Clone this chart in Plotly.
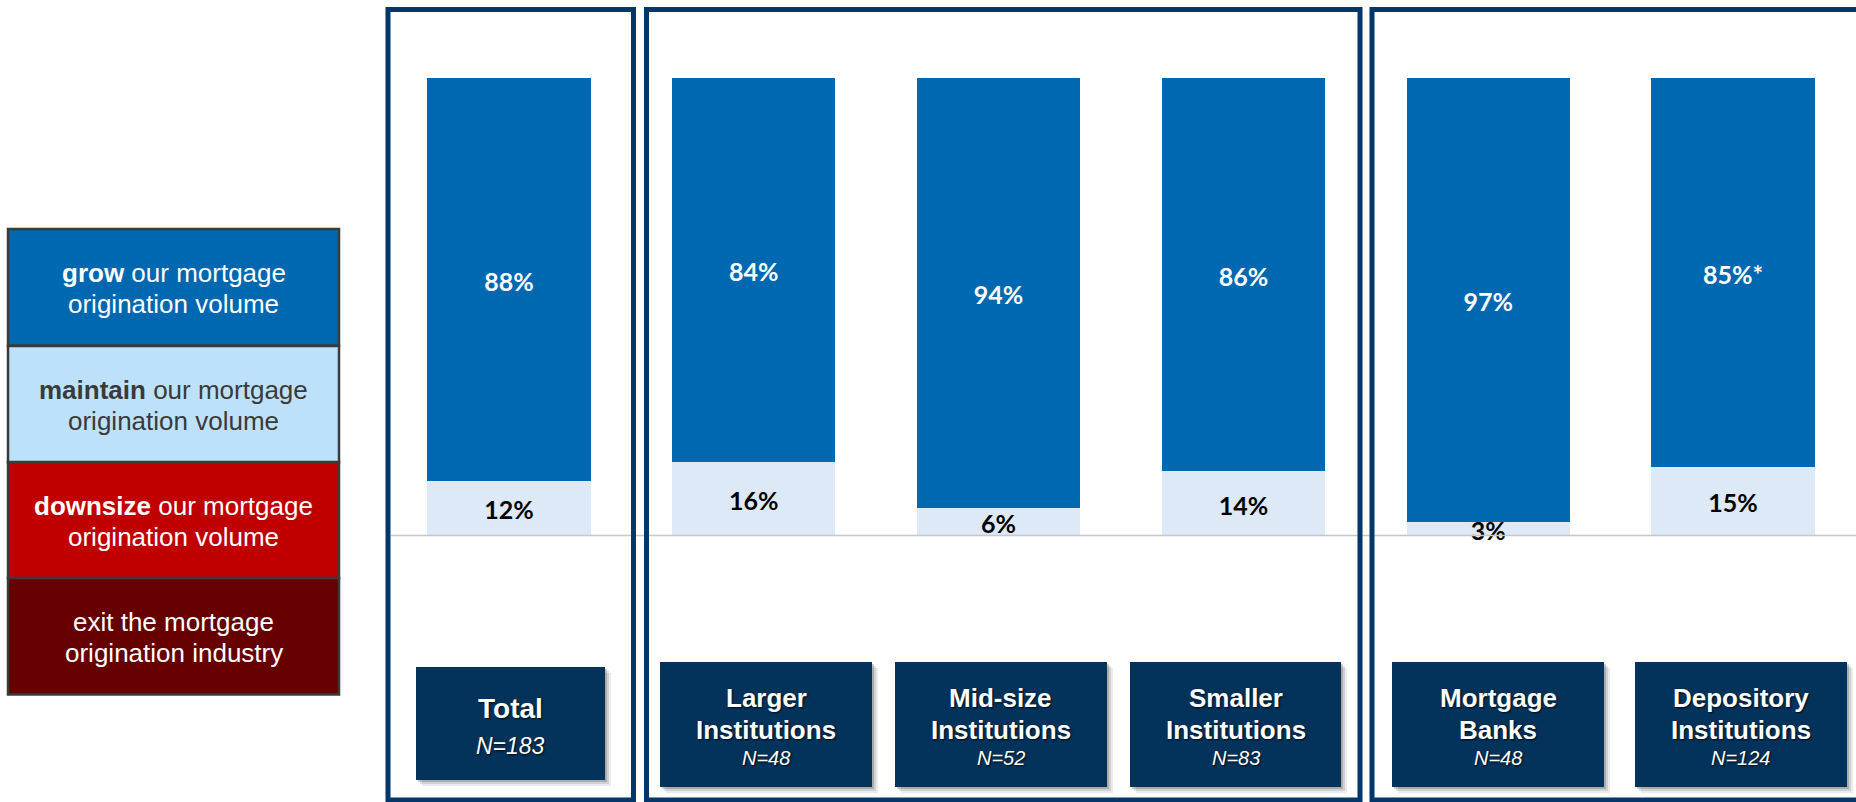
import plotly.graph_objects as go

# ---- data -------------------------------------------------------------
groups = ["Total", "Larger Institutions", "Mid-size Institutions",
          "Smaller Institutions", "Mortgage Banks", "Depository Institutions"]
group_lines = [["Total"], ["Larger", "Institutions"], ["Mid-size", "Institutions"],
               ["Smaller", "Institutions"], ["Mortgage", "Banks"],
               ["Depository", "Institutions"]]
sample_sizes = [183, 48, 52, 83, 48, 124]

grow = [88, 84, 94, 86, 97, 85]
maintain = [12, 16, 6, 14, 3, 15]
grow_marks = ["", "", "", "", "", "*"]

legend_bold = ["grow", "maintain", "downsize", ""]
legend_line1 = [" our mortgage", " our mortgage", " our mortgage", "exit the mortgage"]
legend_line2 = ["origination volume", "origination volume", "origination volume",
                "origination industry"]

# ---- styling ----------------------------------------------------------
W, H = 1856, 802
BLUE = "#0067B1"
LIGHT = "#DDE9F6"
NAVY = "#03325A"
FRAME = "#05366A"
legend_fill = ["#0067B1", "#BEE1FB", "#C00000", "#660000"]
legend_text = ["white", "#3A3A3A", "white", "white"]

FONT_BAR = "Lato, 'DejaVu Sans', sans-serif"
FONT_TXT = "'Liberation Sans', Arial, sans-serif"
SHADOW = "1px 1px 2px rgba(0,0,0,0.8)"

Y_RANGE = [-58.25, 117.05]
PX_PER_UNIT = H / (Y_RANGE[1] - Y_RANGE[0])
TEXT_DROP = 5 / PX_PER_UNIT  # nudge value labels down a few pixels


def X(p):
    return p / W


def Y(p):
    return 1 - p / H


fig = go.Figure()

fig.add_trace(go.Bar(x=groups, y=maintain, marker=dict(color=LIGHT, line=dict(width=0)),
                     width=0.666, hoverinfo="skip", name="maintain"))
fig.add_trace(go.Bar(x=groups, y=grow, marker=dict(color=BLUE, line=dict(width=0)),
                     width=0.666, hoverinfo="skip", name="grow"))

# value labels centred in each segment
fig.add_trace(go.Scatter(
    x=groups, y=[m / 2 - TEXT_DROP for m in maintain], mode="text",
    text=[f"{m}%" for m in maintain],
    textfont=dict(family=FONT_BAR, size=25, color="black", weight="bold"),
    hoverinfo="skip"))
fig.add_trace(go.Scatter(
    x=groups, y=[m + g / 2 - TEXT_DROP for m, g in zip(maintain, grow)], mode="text",
    text=[f"{g}%{s}" for g, s in zip(grow, grow_marks)],
    textfont=dict(family=FONT_BAR, size=25, color="white", weight="bold"),
    hoverinfo="skip"))

shapes = []
annotations = []

# baseline
shapes.append(dict(type="line", xref="paper", yref="y", x0=X(391), x1=1, y0=0, y1=0,
                   line=dict(color="#C8C8C8", width=1.5), layer="above"))

# group frames
for x0, x1 in [(388, 633.5), (646.5, 1360), (1372, 1880)]:
    shapes.append(dict(type="rect", xref="paper", yref="paper",
                       x0=X(x0), x1=X(x1), y0=Y(800), y1=Y(9.5),
                       line=dict(color=FRAME, width=5), fillcolor="rgba(0,0,0,0)",
                       layer="above"))

# category label boxes
label_boxes = [(416, 605, 667, 780), (660, 872, 662, 787), (895, 1107, 662, 787),
               (1130, 1341, 662, 787), (1392, 1604, 662, 787), (1635, 1847, 662, 787)]
for (x0, x1, y0, y1), lines, n in zip(label_boxes, group_lines, sample_sizes):
    for off, alpha in [(6, 0.10), (4, 0.15), (2, 0.25)]:
        shapes.append(dict(type="rect", xref="paper", yref="paper",
                           x0=X(x0 + off), x1=X(x1 + off), y0=Y(y1 + off), y1=Y(y0 + off),
                           line=dict(width=0), fillcolor=f"rgba(60,60,60,{alpha})",
                           layer="above"))
    shapes.append(dict(type="rect", xref="paper", yref="paper",
                       x0=X(x0), x1=X(x1), y0=Y(y1), y1=Y(y0),
                       line=dict(width=0), fillcolor=NAVY, layer="above"))
    cx = X((x0 + x1) / 2)
    if len(lines) == 1:
        rows = [(lines[0], 708, 28, "bold", "normal"),
                (f"N={n}", 746, 23, "normal", "italic")]
    else:
        rows = [(lines[0], 698, 26, "bold", "normal"),
                (lines[1], 730, 26, "bold", "normal"),
                (f"N={n}", 758, 20, "normal", "italic")]
    for txt, cy, sz, wt, st in rows:
        annotations.append(dict(xref="paper", yref="paper", x=cx, y=Y(cy),
                                text=txt, showarrow=False, xanchor="center",
                                yanchor="middle",
                                font=dict(family=FONT_TXT, size=sz, color="white",
                                          weight=wt, style=st, shadow=SHADOW)))

# colour key on the left
row_top = [229, 346, 462, 578]
row_h = 116.5
for i, top in enumerate(row_top):
    shapes.append(dict(type="rect", xref="paper", yref="paper",
                       x0=X(8), x1=X(339), y0=Y(top + row_h), y1=Y(top),
                       line=dict(color="#3A3A3A", width=2.5), fillcolor=legend_fill[i],
                       layer="above"))
    first = (f"<b>{legend_bold[i]}</b>{legend_line1[i]}" if legend_bold[i]
             else legend_line1[i])
    for txt, dy in [(first, 43.6), (legend_line2[i], 75)]:
        annotations.append(dict(xref="paper", yref="paper", x=X(173.5), y=Y(top + dy),
                                text=txt, showarrow=False, xanchor="center",
                                yanchor="middle",
                                font=dict(family=FONT_TXT, size=26, color=legend_text[i])))

step = 244.8
fig.update_layout(
    width=W, height=H, margin=dict(l=0, r=0, t=0, b=0),
    paper_bgcolor="white", plot_bgcolor="white",
    barmode="stack", showlegend=False,
    xaxis=dict(type="category", range=[-509 / step, (W - 509) / step], visible=False,
               fixedrange=True),
    yaxis=dict(range=Y_RANGE, visible=False, fixedrange=True),
    shapes=shapes, annotations=annotations,
)

fig.write_html("out.html", config={"displayModeBar": False})
